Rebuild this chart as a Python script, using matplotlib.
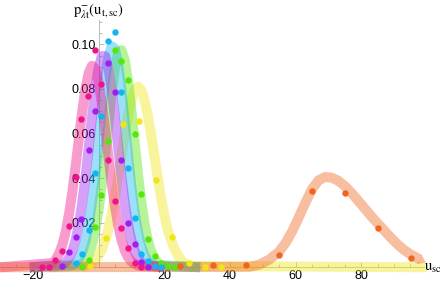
import matplotlib
matplotlib.use("Agg")
import matplotlib.pyplot as plt

# ---- data ----
# smooth fitted curves (center line of the thick bands)
magenta_x = [-30, -14, -13, -12, -11, -10, -9, -8, -7, -6, -5, -4, -3, -2, -1, 0, 1, 2, 3, 4, 5, 6, 7, 8, 9, 10, 12, 20]
magenta_y = [0.0, 0.0019, 0.0035, 0.0062, 0.0102, 0.0159, 0.0237, 0.0335, 0.0450, 0.0574, 0.0695, 0.0799, 0.0872,
             0.0904, 0.0890, 0.0832, 0.0739, 0.0623, 0.0499, 0.0380, 0.0274, 0.0188, 0.0122, 0.0076, 0.0045, 0.0025,
             0.0007, 0.0]

purple_x = [-21, -11, -10, -9, -8, -7, -6, -5, -4, -3, -2, -1, 0, 1, 2, 3, 4, 5, 6, 7, 8, 9, 10, 11, 12, 13, 14, 20]
purple_y = [0.0, 0.0011, 0.0022, 0.0041, 0.0072, 0.0121, 0.0191, 0.0285, 0.0401, 0.0534, 0.0672, 0.0798, 0.0894,
            0.0947, 0.0947, 0.0894, 0.0798, 0.0672, 0.0534, 0.0401, 0.0285, 0.0191, 0.0121, 0.0072, 0.0041, 0.0022,
            0.0011, 0.0]

cyan_x = [-21, -8, -7, -6, -5, -4, -3, -2, -1, 0, 1, 2, 3, 4, 5, 6, 7, 8, 9, 10, 11, 12, 13, 14, 15, 16, 17, 31]
cyan_y = [0.0, 0.0009, 0.0019, 0.0037, 0.0068, 0.0117, 0.0190, 0.0290, 0.0416, 0.0560, 0.0709, 0.0844, 0.0944,
          0.0992, 0.0980, 0.0909, 0.0793, 0.0650, 0.0501, 0.0362, 0.0246, 0.0158, 0.0095, 0.0053, 0.0028, 0.0014,
          0.0007, 0.0]

green_x = [-15, -6, -5, -4, -3, -2, -1, 0, 1, 2, 3, 4, 5, 6, 7, 8, 9, 10, 11, 12, 13, 14, 15, 16, 17, 18, 19, 31]
green_y = [0.0, 0.0008, 0.0016, 0.0031, 0.0058, 0.0101, 0.0165, 0.0254, 0.0368, 0.0503, 0.0648, 0.0785, 0.0896,
           0.0963, 0.0974, 0.0929, 0.0833, 0.0704, 0.0561, 0.0420, 0.0297, 0.0197, 0.0123, 0.0073, 0.0040, 0.0021,
           0.0010, 0.0]

yellow_x = [-5, -4, -3, -2, -1, 0, 1, 2, 3, 4, 5, 6, 7, 8, 9, 10, 11, 12, 13, 14, 15, 16, 17, 18, 19, 20, 21,
            22, 23, 24, 25, 26, 27, 28, 100]
yellow_y = [0.0, 0.0006, 0.0011, 0.0019, 0.0031, 0.0051, 0.0079, 0.0119, 0.0171, 0.0237, 0.0316, 0.0405, 0.0501,
            0.0596, 0.0681, 0.0750, 0.0795, 0.0810, 0.0795, 0.0750, 0.0681, 0.0596, 0.0501, 0.0405, 0.0316, 0.0237,
            0.0171, 0.0125, 0.0088, 0.0058, 0.0036, 0.0021, 0.0012, 0.0006, 0.0]

orange_x = [-30, 46, 49, 52, 55, 57, 59, 61, 63, 65, 67, 69, 71, 73, 75, 77, 79, 81, 83, 85, 87, 89, 91, 93, 95, 97, 98]
orange_y = [0.0, 0.0002, 0.0012, 0.0035, 0.0070, 0.0110, 0.0162, 0.0225, 0.0290, 0.0350, 0.0390, 0.0405, 0.0402,
            0.0388, 0.0365, 0.0334, 0.0300, 0.0265, 0.0230, 0.0197, 0.0165, 0.0133, 0.0104, 0.0078, 0.0058, 0.0042,
            0.0035]

# sampled points (dots)
magenta_dot_x = [-17.2, -15.2, -13.2, -11.2, -9.1, -7.0, -5.3, -3.3, -1.2, 0.8, 2.8, 4.9, 6.9, 8.9, 11.0, 13.0]
magenta_dot_y = [0.0, 0.0002, 0.0031, 0.0073, 0.0184, 0.0405, 0.0666, 0.0768, 0.0975, 0.0820, 0.0483, 0.0296,
                 0.0176, 0.0088, 0.0019, 0.0002]
purple_dot_x = [-11.2, -9.1, -7.0, -5.3, -3.0, -1.2, 2.8, 4.9, 6.9, 8.9, 11.0, 13.0, 15.0]
purple_dot_y = [0.0007, 0.0067, 0.0136, 0.0218, 0.0527, 0.0703, 0.0915, 0.0787, 0.0483, 0.0200, 0.0106, 0.0025, 0.0]
cyan_dot_x = [-7.0, -5.1, -3.0, -1.0, 0.8, 2.8, 4.9, 6.9, 8.9, 11.0, 13.0, 15.0, 17.1, 19.1]
cyan_dot_y = [0.0018, 0.0058, 0.0169, 0.0423, 0.0680, 0.1017, 0.1054, 0.0785, 0.0445, 0.0223, 0.0061, 0.0030,
              0.0006, 0.0003]
green_dot_x = [-5.1, -3.0, -1.0, 0.8, 2.8, 4.9, 6.9, 8.9, 11.0, 13.0, 15.0, 17.1, 19.1, 21.1, 23.2]
green_dot_y = [0.0002, 0.0031, 0.0180, 0.0323, 0.0566, 0.0975, 0.0927, 0.0838, 0.0597, 0.0330, 0.0129, 0.0050,
               0.0021, 0.0005, 0.0003]
yellow_dot_x = [-2.6, 2.3, 7.4, 12.3, 17.4, 22.5, 27.5, 32.5, 37.4]
yellow_dot_y = [0.0005, 0.0131, 0.0644, 0.0655, 0.0393, 0.0136, 0.0017, 0.0003, 0.0003]
orange_dot_x = [24.9, 34.9, 45.0, 55.0, 65.1, 75.0, 85.2, 95.1]
orange_dot_y = [0.0008, 0.0009, 0.0012, 0.0054, 0.0340, 0.0333, 0.0176, 0.0042]

x_ticks = [-20, 20, 40, 60, 80]
y_ticks = [0.02, 0.04, 0.06, 0.08, 0.10]

colors = {
    "magenta": "#f0148c",
    "purple": "#a01ef0",
    "cyan": "#14b4f0",
    "green": "#55e60a",
    "yellow": "#f0e614",
    "orange": "#f0641e",
}

curves = [
    ("yellow", yellow_x, yellow_y, yellow_dot_x, yellow_dot_y),
    ("green", green_x, green_y, green_dot_x, green_dot_y),
    ("cyan", cyan_x, cyan_y, cyan_dot_x, cyan_dot_y),
    ("purple", purple_x, purple_y, purple_dot_x, purple_dot_y),
    ("magenta", magenta_x, magenta_y, magenta_dot_x, magenta_dot_y),
    ("orange", orange_x, orange_y, orange_dot_x, orange_dot_y),
]

plt.rcParams["mathtext.fontset"] = "stix"

fig = plt.figure(figsize=(4.43, 2.82), dpi=100)
ax = fig.add_axes([0, 0, 1, 1])
ax.set_xlim(-30.0, 104.9)
ax.set_ylim(-0.0066, 0.1199)

# thick translucent bands
for name, cx, cy, dx, dy in curves:
    ax.plot(cx, cy, color=colors[name], lw=7.2, alpha=0.42, solid_capstyle="butt",
            solid_joinstyle="round", zorder=2)

# arrow head at the end of the orange curve
ax.annotate("", xy=(99.6, 0.0022), xytext=(97.6, 0.0036),
            arrowprops=dict(arrowstyle="-|>,head_length=0.45,head_width=0.35", color=colors["orange"],
                            alpha=0.42, lw=0, shrinkA=0, shrinkB=0), zorder=2)

# dots on top
for name, cx, cy, dx, dy in curves:
    ax.plot(dx, dy, "o", color=colors[name], ms=4.6, mec="none", zorder=4)

# Mathematica style axes through the origin
for s in ["top", "right"]:
    ax.spines[s].set_visible(False)
ax.spines["bottom"].set_position(("data", 0))
ax.spines["left"].set_position(("data", 0))
ax.spines["bottom"].set_bounds(-30, 99)
ax.spines["left"].set_bounds(0, 0.111)
for s in ["bottom", "left"]:
    ax.spines[s].set_color("#b0b0b0")
    ax.spines[s].set_linewidth(0.6)
    ax.spines[s].set_zorder(1)

ax.set_xticks(x_ticks)
ax.set_xticklabels(["\u221220", "20", "40", "60", "80"])
ax.set_xticks([-25, -15, -10, -5, 5, 10, 15, 25, 30, 35, 45, 50, 55, 65, 70, 75, 85, 90, 95], minor=True)
ax.set_yticks(y_ticks)
ax.set_yticklabels(["0.02", "0.04", "0.06", "0.08", "0.10"])
ax.set_yticks([0.005 * i for i in range(1, 23) if i % 4 != 0], minor=True)
ax.tick_params(which="both", direction="in", color="#b0b0b0", width=0.6,
               labelsize=9, labelfontfamily="Liberation Sans")
ax.tick_params(which="major", length=3.5)
ax.tick_params(which="minor", length=2)
ax.tick_params(axis="x", pad=2)
ax.tick_params(axis="y", pad=2)

ax.text(0, 0.1148, r"$\mathrm{p}^{-}_{\lambda\mathrm{t}}(\mathrm{u}_{\mathrm{t,sc}})$",
        ha="center", va="center", fontsize=10.5)
ax.text(101.8, 0.0, r"$\mathrm{u}_{\mathrm{sc}}$", ha="center", va="center", fontsize=10.5)

plt.savefig("out.png", dpi=100)
